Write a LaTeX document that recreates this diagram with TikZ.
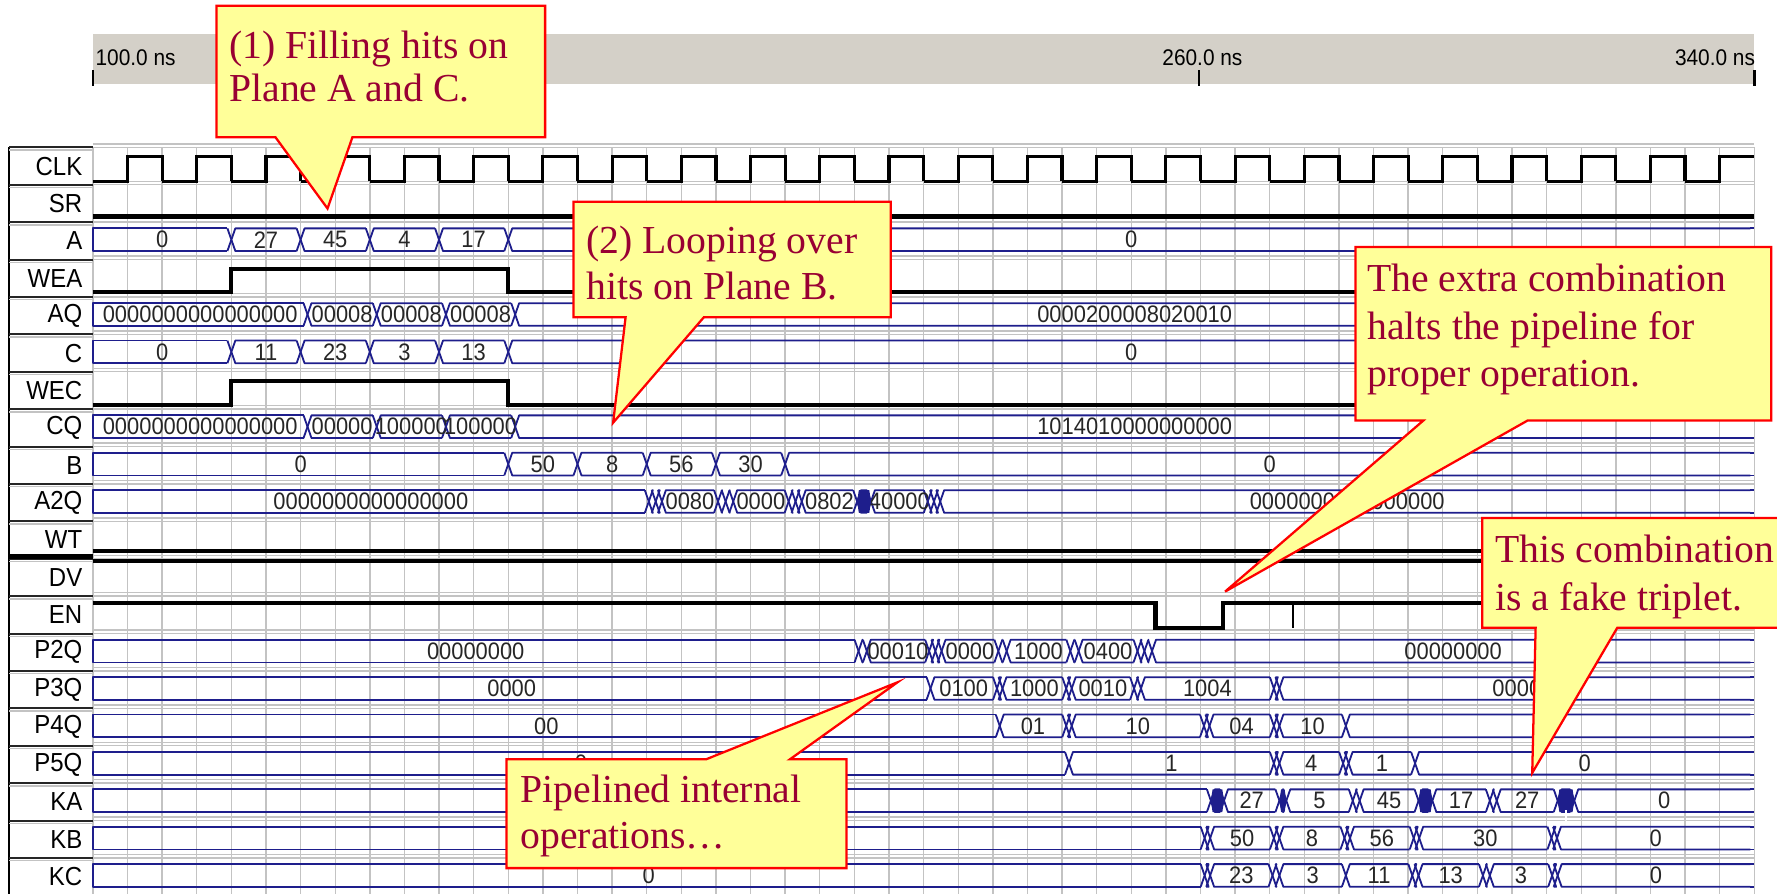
\documentclass[tikz,border=0pt]{standalone}
\usepackage{fontspec}
\setmainfont{Liberation Serif}
\newfontfamily\wf[FakeStretch=0.92]{Liberation Sans}
\definecolor{busc}{RGB}{30,30,140}
\definecolor{gridc}{RGB}{195,195,195}
\definecolor{bandc}{RGB}{212,208,200}
\definecolor{cfill}{RGB}{255,255,153}
\definecolor{ctextc}{RGB}{153,0,51}
\tikzset{
  bus/.style={draw=busc, line width=0.8pt, line join=round},
  dig/.style={draw=black, line width=1.8pt, line join=miter},
  clk/.style={draw=black, line width=1.4pt, line join=miter},
  gridln/.style={draw=gridc, line width=0.6pt},
  val/.style={font=\wf\fontsize{10.5}{11}\selectfont, inner sep=0pt, text=black!85},
  lab/.style={font=\wf\fontsize{11.5}{12}\selectfont, inner sep=0pt},
  tl/.style={font=\wf\fontsize{10}{11}\selectfont, inner sep=0pt},
  callbox/.style={fill=cfill, draw=red, line width=1pt, line join=miter},
  ctext/.style={font=\fontsize{17.5}{20}\selectfont, text=ctextc, align=left, inner sep=0pt},
}
% bus row: #1 row index, #2 name prefix, #3 list t1/t2/label
\newcommand\busrow[3]{%
  \pgfmathsetmacro\yc{145.5+33*#1}%
  \pgfmathsetmacro\yt{\yc-10}%
  \pgfmathsetmacro\yb{\yc+10}%
  \foreach \ta/\tb/\lab [count=\k] in {#3} {%
    \pgfmathsetmacro\xa{82+6.108*(\ta-100)}%
    \pgfmathsetmacro\xb{82+6.108*(\tb-100)}%
    \pgfmathsetmacro\xl{\xa+3.5}%
    \pgfmathsetmacro\xr{\xb-3.5}%
    \ifdim\ta pt<100.5pt
      \draw[bus] (\xr,\yt) -- (\xa,\yt) -- (\xa,\yb) -- (\xr,\yb);
    \else
      \draw[bus] (\xr,\yt) -- (\xl,\yt) -- (\xa,\yc) -- (\xl,\yb) -- (\xr,\yb);
    \fi
    \ifdim\tb pt<339.5pt
      \draw[bus] (\xr,\yt) -- (\xb,\yc) -- (\xr,\yb);
    \else
      \draw[bus] (\xr,\yt) -- (\xb,\yt) (\xr,\yb) -- (\xb,\yb);
    \fi
    \node[val] (#2\k) at ({(\xa+\xb)/2},\yc) {\lab};
  }%
}
\newcommand\blob[3]{%
  \pgfmathsetmacro\yc{145.5+33*#1}%
  \pgfmathsetmacro\xa{82+6.108*(#2-100)}%
  \pgfmathsetmacro\xb{82+6.108*(#3-100)}%
  \fill[busc] (\xa,\yc) -- (\xa+1.5,\yc-10) -- (\xb-1.5,\yc-10) -- (\xb,\yc) -- (\xb-1.5,\yc+10) -- (\xa+1.5,\yc+10) -- cycle;
}
\begin{document}
\begin{tikzpicture}[x=0.5pt,y=-0.5pt]
\useasboundingbox (0,0) rectangle (1568,789);
\clip (0,0) rectangle (1568,789);
% time band
\fill[bandc] (82,30) rectangle (1548,74);
\draw[line width=1.2pt] (82,62) -- (82,76);
\draw[line width=1.2pt] (1058,62) -- (1058,76);
\draw[line width=1.2pt] (1548,62) -- (1548,76);
\node[tl, anchor=west] (t100) at (84,51) {100.0 ns};
\node[tl] (t260) at (1061,51) {260.0 ns};
\node[tl, anchor=east] (t340) at (1549,51) {340.0 ns};
% grid
\foreach \k in {0,...,48} {\draw[gridln] ({82+30.54*\k},130) -- ({82+30.54*\k},789);}
\foreach \i in {0,...,19} {
  \draw[gridln] (82,{130+33*\i}) -- (1548,{130+33*\i});
  \draw[gridln] (82,{127+33*\i}) -- (1548,{127+33*\i});
}
% label column
\draw[black, line width=1.2pt] (8,130) -- (8,789);
\foreach \i in {0,...,19} {
  \draw[black!85, line width=0.9pt] (8,{130+33*\i}) -- (82,{130+33*\i});
  \draw[gridc, line width=0.6pt] (8,{132.5+33*\i}) -- (82,{132.5+33*\i});
}
\draw[black, line width=1.8pt] (8,491) -- (82,491);
\foreach \n [count=\i from 0] in {CLK,SR,A,WEA,AQ,C,WEC,CQ,B,A2Q,WT,DV,EN,P2Q,P3Q,P4Q,P5Q,KA,KB,KC}
  {\node[lab, anchor=east] (lab\n) at (73,{146.5+33*\i}) {\n};}
% CLK
\foreach \k in {0,...,22} {
  \pgfmathsetmacro\xa{82+61.08*\k}
  \draw[clk] (\xa,160) -- (\xa+30.54,160) -- (\xa+30.54,138) -- (\xa+61.08,138) -- (\xa+61.08,160);
}
\draw[clk] (1486.84,160) -- (1517.38,160) -- (1517.38,138) -- (1548,138);
% digital signals
\draw[dig] (82,191) -- (1548,191); % SR
\draw[dig] (82,258) -- (204.16,258) -- (204.16,237) -- (448.48,237) -- (448.48,258) -- (1548,258); % WEA
\draw[dig] (82,357) -- (204.16,357) -- (204.16,336) -- (448.48,336) -- (448.48,357) -- (1548,357); % WEC
\draw[dig] (82,486) -- (1548,486); % WT
\draw[dig] (82,495) -- (1548,495); % DV
\draw[dig] (82,532) -- (1019.6,532) -- (1019.6,554) -- (1079.4,554) -- (1079.4,532) -- (1548,532); % EN
\draw[black, line width=0.6pt] (1141,532) -- (1141,554);
% buses
\busrow{2}{A}{100/120/0,120/130/27,130/140/45,140/150/4,150/160/17,160/340/0}
\busrow{4}{AQ}{100/131/0000000000000000,131/141/00008,141/151/00008,151/161/00008,161/340/0000200008020010}
\busrow{5}{C}{100/120/0,120/130/11,130/140/23,140/150/3,150/160/13,160/340/0}
\busrow{7}{CQ}{100/131/0000000000000000,131/141/00000,141/151/100000,151/161/100000,161/340/1014010000000000}
\busrow{8}{B}{100/160/0,160/170/50,170/180/8,180/190/56,190/200/30,200/340/0}
\busrow{9}{A2Q}{100/180.3/0000000000000000,180.3/181.3/{},181.3/182.2/{},182.2/190.3/0080,190.3/191.4/{},191.4/192.5/{},192.5/200.5/0000,200.5/201.5/{},201.5/202.4/{},202.4/210.4/0802,210.4/212.4/{},212.4/220.6/40000,220.6/221.5/{},221.5/222.4/{},222.4/340/0000000000000000}
\blob{9}{210.4}{212.4}
\busrow{13}{P2Q}{100/210.6/00000000,210.6/211.8/{},211.8/220.8/00010,220.8/221.7/{},221.7/222.6/{},222.6/230.8/0000,230.8/232/{},232/241.2/1000,241.2/242.4/{},242.4/250.9/0400,250.9/251.9/{},251.9/253/{},253/340/00000000}
\busrow{14}{P3Q}{100/221/0000,221/230.6/0100,230.6/231.4/{},231.4/240.6/1000,240.6/241.4/{},241.4/250.4/0010,250.4/251.4/{},251.4/270.6/1004,270.6/271.4/{},271.4/340/0000}
\busrow{15}{P4Q}{100/231/00,231/240.6/01,240.6/241.4/{},241.4/260.5/10,260.5/261.3/{},261.3/270.6/04,270.6/271.4/{},271.4/281/10,281/340/0}
\busrow{16}{P5Q}{100/241/0,241/270.6/1,270.6/271.4/{},271.4/280.6/4,280.6/281.4/{},281.4/291/1,291/340/0}
\busrow{17}{KA}{100/261.5/{},261.5/263.4/{},263.4/271.4/27,271.4/272.4/{},272.4/282/5,282/283/{},283/291.5/45,291.5/293.5/{},293.5/301.8/17,301.8/302.8/{},302.8/311.6/27,311.6/314/{},314/340/0}
\blob{17}{261.5}{263.4}
\blob{17}{271.4}{272.4}
\blob{17}{291.5}{293.5}
\blob{17}{311.6}{314}
\fill[white] (1381,715) rectangle (1383,727);
\busrow{18}{KB}{100/260.6/{},260.6/261.4/{},261.4/270.6/50,270.6/271.4/{},271.4/280.8/8,280.8/281.6/{},281.6/290.8/56,290.8/291.6/{},291.6/310.7/30,310.7/311.5/{},311.5/340/0}
\busrow{19}{KC}{100/260.6/0,260.6/261.4/{},261.4/270.4/23,270.4/271.4/{},271.4/281/3,281/290.6/11,290.6/291.5/{},291.5/300.8/13,300.8/301.8/{},301.8/310.8/3,310.8/311.6/{},311.6/340/0}
% callouts
\path[callbox] (191,5) -- (481,5) -- (481,121) -- (311,121) -- (289,184) -- (243,121) -- (191,121) -- cycle;
\node[ctext, anchor=west, font=\fontsize{17.5}{19}\selectfont] (c1) at (202,59) {(1) Filling hits on\\Plane A and C.};
\path[callbox] (506,178) -- (786,178) -- (786,280) -- (621,280) -- (541,373) -- (552,280) -- (506,280) -- cycle;
\node[ctext, anchor=west] (c2) at (517,232) {(2) Looping over\\hits on Plane B.};
\path[callbox] (1196,218) -- (1563,218) -- (1563,371) -- (1348,371) -- (1081,522) -- (1256,371) -- (1196,371) -- cycle;
\node[ctext, anchor=west, font=\fontsize{17.5}{21}\selectfont] (c3) at (1206,291) {The extra combination\\halts the pipeline for\\proper operation.};
\path[callbox] (1308,457) -- (1580,457) -- (1580,554) -- (1427,554) -- (1352,682) -- (1355,554) -- (1308,554) -- cycle;
\node[ctext, anchor=west, font=\fontsize{17.5}{21}\selectfont] (c4) at (1319,509) {This combination\\is a fake triplet.};
\path[callbox] (447,670) -- (623,670) -- (792,602) -- (697,670) -- (747,670) -- (747,766) -- (447,766) -- cycle;
\node[ctext, anchor=west] (c5) at (459,720) {Pipelined internal\\operations\ldots};
\end{tikzpicture}
\end{document}
